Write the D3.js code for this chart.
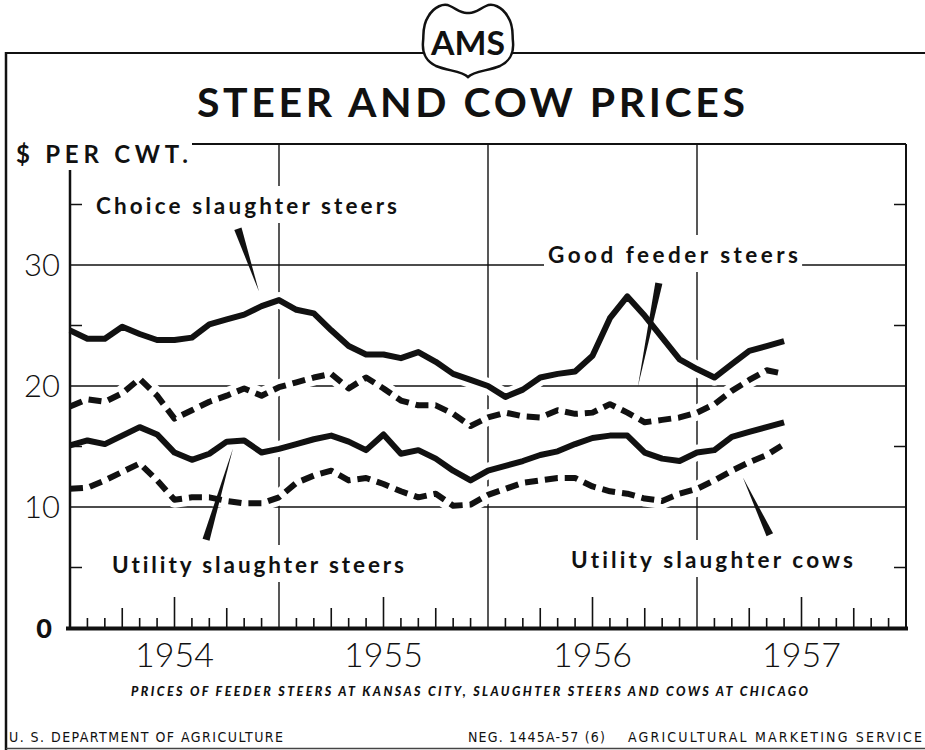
<!DOCTYPE html>
<html><head><meta charset="utf-8">
<script src="https://cdn.jsdelivr.net/npm/d3@7"></script>
<style>html,body{margin:0;padding:0;background:#fff;} svg{display:block;} text{font-variant-ligatures:none;font-feature-settings:"liga" 0;}</style>
</head><body>
<svg id="c" width="925" height="750"></svg>
<script>
// ---------- DATA ----------
const monthNames = ["Jan","Feb","Mar","Apr","May","Jun","Jul","Aug","Sep","Oct","Nov","Dec"];
const months = d3.range(42).map(i => monthNames[i % 12] + " " + (1954 + Math.floor(i / 12)));

const choiceSlaughterSteers = [24.6,23.9,23.9,24.9,24.3,23.8,23.8,24.0,25.1,25.5,25.9,26.6,
  27.1,26.3,26.0,24.6,23.3,22.6,22.6,22.3,22.8,22.0,21.0,20.5,
  20.0,19.1,19.7,20.7,21.0,21.2,22.5,25.6,27.4,25.8,24.0,22.2,
  21.4,20.7,21.8,22.9,23.3,23.7];
const goodFeederSteers = [18.3,18.9,18.7,19.4,20.6,19.2,17.3,18.0,18.7,19.2,19.8,19.2,
  19.9,20.3,20.7,21.0,19.8,20.7,19.8,18.8,18.4,18.4,17.7,16.7,
  17.4,17.8,17.5,17.4,18.0,17.7,17.8,18.5,17.8,17.0,17.2,17.4,
  17.8,18.5,19.6,20.5,21.3,21.0];
const utilitySlaughterSteers = [15.1,15.5,15.2,15.9,16.6,16.0,14.5,13.9,14.4,15.4,15.5,14.5,
  14.8,15.2,15.6,15.9,15.4,14.7,16.0,14.4,14.7,14.0,13.0,12.2,
  13.0,13.4,13.8,14.3,14.6,15.2,15.7,15.9,15.9,14.5,14.0,13.8,
  14.5,14.7,15.8,16.2,16.6,17.0];
const utilitySlaughterCows = [11.5,11.6,12.2,12.9,13.6,12.2,10.6,10.8,10.8,10.5,10.3,10.3,
  10.8,12.0,12.6,13.0,12.2,12.4,11.9,11.3,10.8,11.1,10.1,10.2,
  11.0,11.5,12.0,12.2,12.4,12.4,11.7,11.3,11.1,10.7,10.5,11.1,
  11.5,12.2,13.0,13.7,14.3,15.2];

const yearLabels = ["1954","1955","1956","1957"];
const yGridValues = [10, 20, 30];
const yLabelValues = ["0","10","20","30"];
const yMinorTicks = [5, 15, 25, 35];

// ---------- SETUP ----------
const svg = d3.select("#c");
const INK = "#111";
const x = d3.scaleLinear().domain([0, 48]).range([70, 906]);
const y = d3.scaleLinear().domain([0, 40]).range([628, 144]);
const FONT = "Lato, 'DejaVu Sans', sans-serif";
const NARROW = "'Liberation Sans Narrow', 'DejaVu Sans Condensed', 'Liberation Sans', sans-serif";

// outer frame
svg.append("line").attr("x1", 5).attr("x2", 925).attr("y1", 53).attr("y2", 53)
  .attr("stroke", INK).attr("stroke-width", 2);
svg.append("line").attr("x1", 6).attr("x2", 6).attr("y1", 52).attr("y2", 750)
  .attr("stroke", INK).attr("stroke-width", 2.5);
svg.append("line").attr("x1", 6).attr("x2", 925).attr("y1", 748.5).attr("y2", 748.5)
  .attr("stroke", "#444").attr("stroke-width", 1.5);

// logo shield
svg.append("path")
  .attr("d", "M428,17 C434,6 444,3 450,6 C458,10 462,14 468,13 C474,14 478,10 486,6 C492,3 502,6 508,17 C514,26 512,34 513,42 C514,54 510,61 500,66 C488,71 474,71 468,77 C462,71 448,71 436,66 C426,61 422,54 423,42 C424,34 422,26 428,17 Z")
  .attr("fill", "#fff").attr("stroke", INK).attr("stroke-width", 2.5);
svg.append("text").attr("x", 468).attr("y", 55).attr("text-anchor", "middle")
  .attr("font-family", FONT).attr("font-weight", "bold").attr("font-size", 33)
  .attr("textLength", 74).attr("lengthAdjust", "spacingAndGlyphs")
  .attr("fill", INK).text("AMS");

// title
svg.append("text").attr("x", 197).attr("y", 117)
  .attr("font-family", FONT).attr("font-weight", "bold").attr("font-size", 41)
  .attr("textLength", 548).attr("lengthAdjust", "spacing")
  .attr("fill", INK).text("STEER AND COW PRICES");

svg.append("text").attr("x", 16).attr("y", 163)
  .attr("font-family", FONT).attr("font-weight", "bold").attr("font-size", 24)
  .attr("textLength", 172).attr("lengthAdjust", "spacing")
  .attr("fill", INK).text("$ PER CWT.");

// ---------- GRID ----------
const grid = svg.append("g").attr("stroke", INK).attr("stroke-width", 1.4);
grid.selectAll(".hg").data(yGridValues).join("line")
  .attr("x1", x(0)).attr("x2", x(48)).attr("y1", d => y(d)).attr("y2", d => y(d));
grid.append("line").attr("x1", 192).attr("x2", x(48)).attr("y1", y(40)).attr("y2", y(40))
  .attr("stroke-width", 2);
grid.selectAll(".vg").data([12, 24, 36]).join("line")
  .attr("x1", d => x(d)).attr("x2", d => x(d)).attr("y1", y(40)).attr("y2", y(0));

// ---------- LABELS (with white backgrounds to break gridlines) ----------
const labels = [
  {text: "Choice slaughter steers", x: 96, y: 214, w: 301},
  {text: "Good feeder steers", x: 548, y: 263, w: 250},
  {text: "Utility slaughter steers", x: 112, y: 573, w: 292},
  {text: "Utility slaughter cows", x: 571, y: 568, w: 282}
];
const labBg = svg.append("g");
const halo = svg.append("g");
const linesG = svg.append("g");
const labG = svg.append("g");
labels.forEach(l => {
  const t = labG.append("text").attr("x", l.x).attr("y", l.y)
    .attr("font-family", FONT).attr("font-weight", "bold").attr("font-size", 22.5)
    .attr("textLength", l.w).attr("lengthAdjust", "spacing")
    .attr("fill", INK).text(l.text);
  const b = t.node().getBBox();
  labBg.append("rect").attr("x", b.x - 4).attr("y", b.y - 6)
    .attr("width", b.width + 8).attr("height", b.height + 10).attr("fill", "#fff");
});

// ---------- SERIES ----------
const series = [
  {name: "Choice slaughter steers", values: choiceSlaughterSteers, dash: null},
  {name: "Good feeder steers", values: goodFeederSteers, dash: "13,7"},
  {name: "Utility slaughter steers", values: utilitySlaughterSteers, dash: null},
  {name: "Utility slaughter cows", values: utilitySlaughterCows, dash: "13,7"}
];
const line = d3.line().x((d, i) => x(i)).y(d => y(d)).curve(d3.curveLinear);
halo.selectAll("path").data(series).join("path")
  .attr("d", d => line(d.values)).attr("fill", "none")
  .attr("stroke", "#fff").attr("stroke-width", 16).attr("stroke-linejoin", "round");
linesG.selectAll("path").data(series).join("path")
  .attr("d", d => line(d.values)).attr("fill", "none")
  .attr("stroke", INK).attr("stroke-width", 6).attr("stroke-linejoin", "round")
  .attr("stroke-dasharray", d => d.dash);

// pointers (base and tip in data coordinates: month index, $)
const pointers = [
  {base: [9.64, 33.0], tip: [10.85, 27.8], hw: 3.8},
  {base: [33.81, 28.5], tip: [32.6, 19.9], hw: 3.6},
  {base: [7.81, 7.3], tip: [9.36, 14.85], hw: 3.6},
  {base: [40.18, 7.7], tip: [38.63, 12.46], hw: 3.6}
];
svg.append("g").selectAll("path").data(pointers).join("path")
  .attr("d", p => {
    const bx = x(p.base[0]), by = y(p.base[1]), tx = x(p.tip[0]), ty = y(p.tip[1]);
    const dx = tx - bx, dy = ty - by, L = Math.hypot(dx, dy);
    const nx = -dy / L * p.hw, ny = dx / L * p.hw;
    return `M${bx + nx},${by + ny}L${bx - nx},${by - ny}L${tx},${ty}Z`;
  })
  .attr("fill", INK);

// ---------- AXES ----------
const ax = svg.append("g").attr("stroke", INK);
ax.append("line").attr("x1", 70).attr("x2", 70).attr("y1", 170).attr("y2", y(0))
  .attr("stroke-width", 2.5);
ax.append("line").attr("x1", x(48)).attr("x2", x(48)).attr("y1", y(40)).attr("y2", y(0))
  .attr("stroke-width", 2);
ax.selectAll(".lt").data(yMinorTicks).join("line")
  .attr("x1", 70).attr("x2", 82).attr("y1", d => y(d)).attr("y2", d => y(d)).attr("stroke-width", 1.5);
ax.selectAll(".rt").data(yMinorTicks).join("line")
  .attr("x1", x(48)).attr("x2", x(48) - 12).attr("y1", d => y(d)).attr("y2", d => y(d)).attr("stroke-width", 1.5);

const monthTicks = d3.range(1, 48).filter(m => m % 12 !== 0);
ax.selectAll(".mt").data(monthTicks).join("line")
  .attr("x1", d => x(d)).attr("x2", d => x(d)).attr("y1", y(0))
  .attr("y2", d => y(0) - (d % 12 === 6 ? 31 : d % 3 === 0 ? 20 : 10))
  .attr("stroke-width", 1.6);
ax.append("line").attr("x1", 66).attr("x2", 908).attr("y1", y(0) + 0.5).attr("y2", y(0) + 0.5)
  .attr("stroke-width", 4);

// y labels
svg.selectAll(".yl").data(yLabelValues).join("text")
  .attr("x", d => d === "0" ? 52 : 60)
  .attr("y", d => y(+d) + (d === "0" ? 10 : 11))
  .attr("text-anchor", "end").attr("font-family", FONT)
  .attr("font-weight", d => d === "0" ? 900 : 300)
  .attr("font-size", d => d === "0" ? 27 : 31)
  .attr("fill", INK).text(d => d);

// year labels
svg.selectAll(".yr").data(yearLabels).join("text")
  .attr("x", (d, i) => x(6 + 12 * i)).attr("y", 667)
  .attr("text-anchor", "middle").attr("font-family", FONT).attr("font-weight", 300)
  .attr("font-size", 34).attr("fill", INK).text(d => d);

// footnote & credits
svg.append("text").attr("x", 131).attr("y", 696)
  .attr("font-family", FONT).attr("font-weight", 900).attr("font-style", "italic")
  .attr("font-size", 12.5).attr("textLength", 677).attr("lengthAdjust", "spacing")
  .attr("fill", INK).text("PRICES OF FEEDER STEERS AT KANSAS CITY, SLAUGHTER STEERS AND COWS AT CHICAGO");
const credit = (txt, x0, w) => svg.append("text").attr("x", x0).attr("y", 742)
  .attr("font-family", NARROW).attr("font-size", 14)
  .attr("textLength", w).attr("lengthAdjust", "spacing")
  .attr("fill", INK).text(txt);
credit("U. S. DEPARTMENT OF AGRICULTURE", 9, 274);
credit("NEG. 1445A-57 (6)", 468, 137);
credit("AGRICULTURAL MARKETING SERVICE", 628, 294);
</script>
</body></html>
